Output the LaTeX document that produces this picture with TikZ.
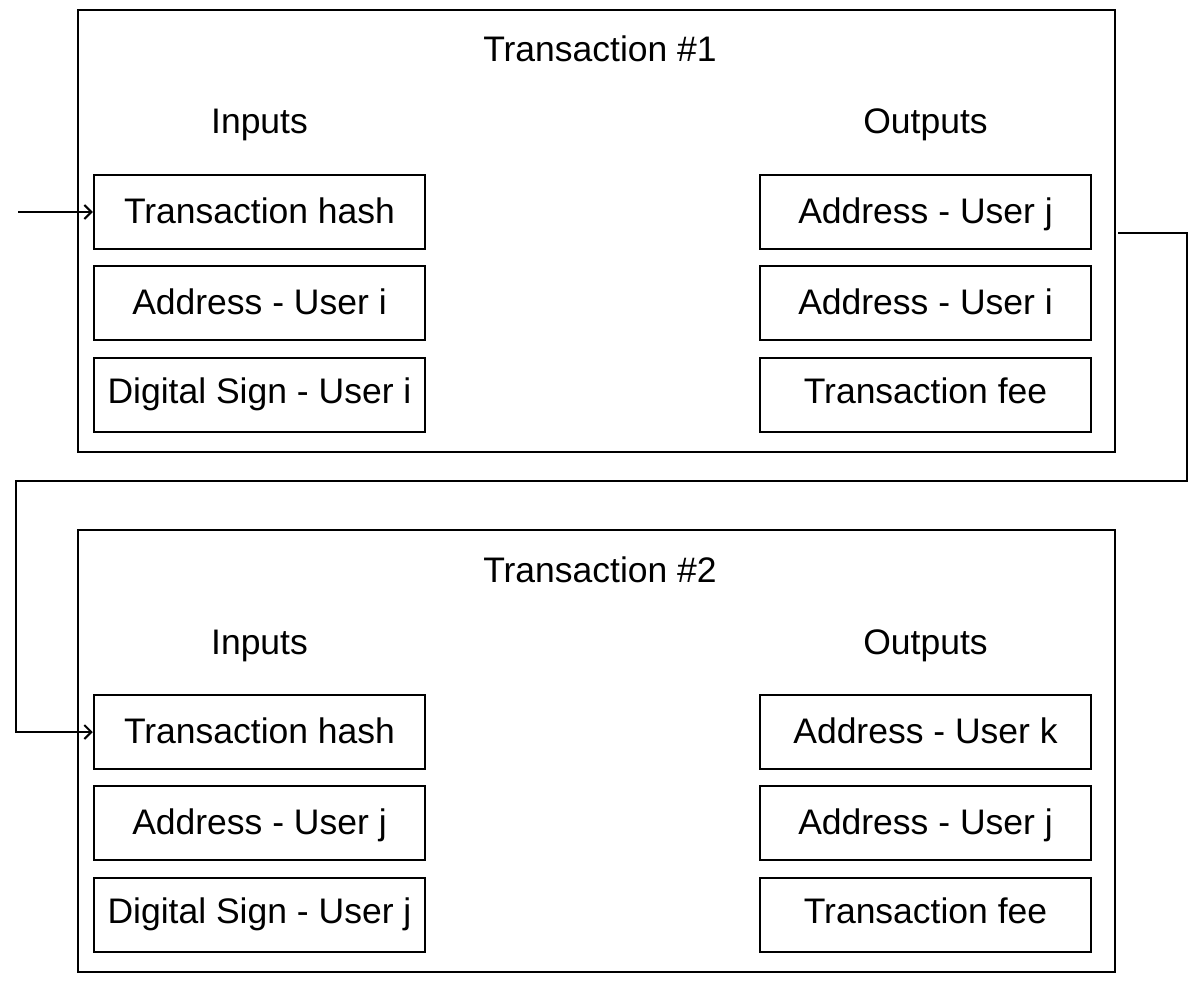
\documentclass[tikz,border=0pt]{standalone}
\usepackage{fontspec}
\setmainfont{Liberation Sans}
\usetikzlibrary{arrows.meta}
\begin{document}
\begin{tikzpicture}[x=1pt,y=-1pt,
  outerbox/.style={draw,line width=2pt,minimum width=1037pt,minimum height=442pt,inner sep=0pt},
  field/.style={draw,line width=2.5pt,minimum width=331pt,minimum height=74pt,inner sep=0pt,
    text height=26pt,text depth=#1,font=\fontsize{35.5}{42}\selectfont},
  field/.default=4pt,
  lbl/.style={inner sep=0pt,anchor=base,font=\fontsize{35.5}{42}\selectfont},
  conn/.style={line width=2.5pt,-{Straight Barb[length=7pt,width=14pt,line width=2pt]}}]
\useasboundingbox[fill=white] (0,0) rectangle (1200,1006);
% Transaction 1
\node[outerbox] (t1) at (596.5,231) {};
\node[lbl] (t1title) at (600,62) {Transaction \#1};
\node[lbl] (t1in) at (259.5,134) {Inputs};
\node[lbl] (t1out) at (925.5,134) {Outputs};
\node[field] (a1) at (259.5,212) {Transaction hash};
\node[field] (a2) at (259.5,303) {Address - User i};
\node[field=10pt] (a3) at (259.5,395) {Digital Sign - User i};
\node[field] (b1) at (925.5,212) {Address - User j};
\node[field] (b2) at (925.5,303) {Address - User i};
\node[field=10pt] (b3) at (925.5,395) {Transaction fee};
% Transaction 2
\node[outerbox] (t2) at (596.5,751) {};
\node[lbl] (t2title) at (600,582) {Transaction \#2};
\node[lbl] (t2in) at (259.5,654) {Inputs};
\node[lbl] (t2out) at (925.5,654) {Outputs};
\node[field] (c1) at (259.5,732) {Transaction hash};
\node[field] (c2) at (259.5,823) {Address - User j};
\node[field=10pt] (c3) at (259.5,915) {Digital Sign - User j};
\node[field] (d1) at (925.5,732) {Address - User k};
\node[field] (d2) at (925.5,823) {Address - User j};
\node[field=10pt] (d3) at (925.5,915) {Transaction fee};
% connectors
\coordinate (src) at (18,212);
\coordinate (out) at (1118,233);
\draw[conn] (src) -- (a1.west);
\draw[conn] (out) -- (1187,233) -- (1187,481) -- (16,481) -- (16,|-c1.west) -- (c1.west);
\end{tikzpicture}
\end{document}
